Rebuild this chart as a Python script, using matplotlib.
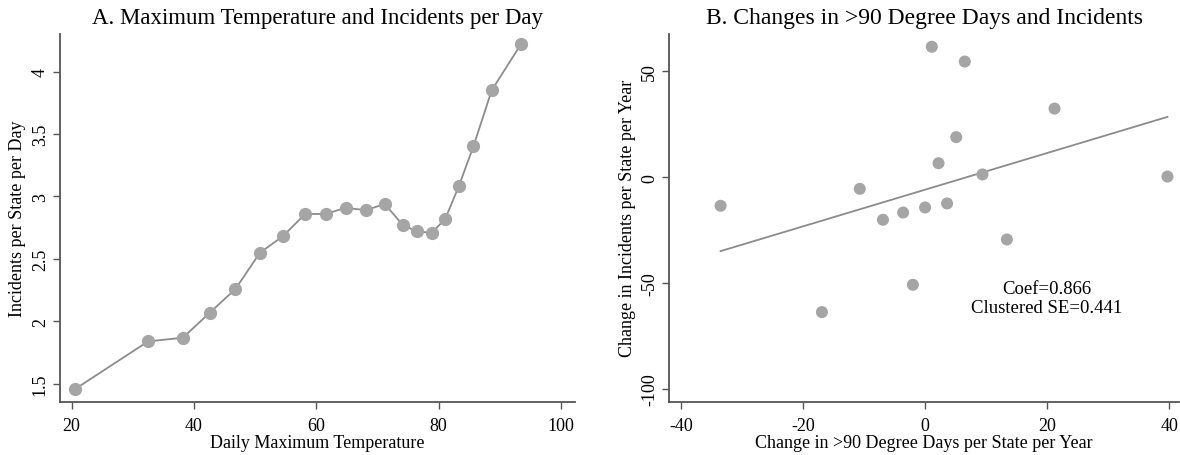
import numpy as np
import matplotlib
matplotlib.use("Agg")
import matplotlib.pyplot as plt
from matplotlib.ticker import FuncFormatter

# --- Panel A: binned daily max temperature vs incidents ---
temp_bins = [20.6, 32.5, 38.2, 42.6, 46.8, 50.8, 54.5, 58.2, 61.6, 64.8,
             68.1, 71.2, 74.2, 76.5, 78.9, 81.1, 83.3, 85.7, 88.7, 93.5]
incidents_day = [1.46, 1.84, 1.87, 2.07, 2.26, 2.55, 2.68, 2.86, 2.86, 2.91,
                 2.89, 2.94, 2.77, 2.72, 2.71, 2.82, 3.08, 3.40, 3.85, 4.22]

# --- Panel B: changes in >90 degree days vs changes in incidents ---
d_hot_days = [-33.5, -16.9, -10.7, -6.9, -3.6, -2.0, 0.0, 1.1, 2.2, 3.6,
              5.1, 6.5, 9.4, 13.4, 21.2, 39.7]
d_incidents = [-13.5, -63.7, -5.5, -20.1, -16.7, -50.8, -14.3, 61.6, 6.6, -12.4,
               18.9, 54.6, 1.3, -29.4, 32.4, 0.3]
coef = 0.866
intercept = -5.9
se = 0.441

plt.rcParams['font.family'] = ['Liberation Serif', 'DejaVu Serif']

MARK = '#a5a5a5'
LINE = '#8c8c8c'
AXC = '#555555'

fig = plt.figure(figsize=(11.8, 4.56), dpi=100)
ax1 = fig.add_axes([0.0508, 0.1169, 0.4364, 0.8063])
ax2 = fig.add_axes([0.5672, 0.1169, 0.4320, 0.8063])

fmt = FuncFormatter(lambda v, p: f"{v:g}")

def style(ax):
    for s in ['top', 'right']:
        ax.spines[s].set_visible(False)
    for s in ['left', 'bottom']:
        ax.spines[s].set_color(AXC)
        ax.spines[s].set_linewidth(1.3)
    ax.tick_params(direction='out', length=5, width=1.0, color=AXC,
                   labelsize=13, pad=3)
    ax.tick_params(axis='x', pad=6)
    ax.tick_params(axis='y', labelrotation=90)
    for lab in ax.get_yticklabels():
        lab.set_va('center')
    ax.yaxis.set_major_formatter(fmt)
    ax.xaxis.set_major_formatter(fmt)

# panel A
ax1.plot(temp_bins, incidents_day, color=LINE, lw=1.3, marker='o', ms=8.5,
         mfc=MARK, mec=MARK, zorder=3)
ax1.set_xlim(18.1, 102.3)
ax1.set_ylim(1.358, 4.30)
ax1.set_xticks([20, 40, 60, 80, 100])
ax1.set_yticks([1.5, 2, 2.5, 3, 3.5, 4])
style(ax1)
ax1.set_xlabel("Daily Maximum Temperature", fontsize=13, labelpad=0)
ax1.set_ylabel("Incidents per State per Day", fontsize=13, labelpad=4)
ax1.set_title("A. Maximum Temperature and Incidents per Day", fontsize=16.5, pad=8)

# panel B
ax2.scatter(d_hot_days, d_incidents, s=75, color=MARK, edgecolors='none', zorder=3)
xs = np.array([min(d_hot_days), max(d_hot_days)])
ax2.plot(xs, intercept + coef * xs, color=LINE, lw=1.3, zorder=2)
ax2.set_xlim(-41.9, 41.6)
ax2.set_ylim(-106, 67.6)
ax2.set_xticks([-40, -20, 0, 20, 40])
ax2.set_yticks([-100, -50, 0, 50])
style(ax2)
ax2.set_xlabel("Change in >90 Degree Days per State per Year", fontsize=13, labelpad=0)
ax2.set_ylabel("Change in Incidents per State per Year", fontsize=13, labelpad=4)
ax2.set_title("B. Changes in >90 Degree Days and Incidents", fontsize=17, pad=8)
ax2.text(19.9, -57, f"Coef={coef:.3f}\nClustered SE={se:.3f}", ha='center',
         va='center', fontsize=13.5, linespacing=1.2)

fig.savefig("out.png", dpi=100)
